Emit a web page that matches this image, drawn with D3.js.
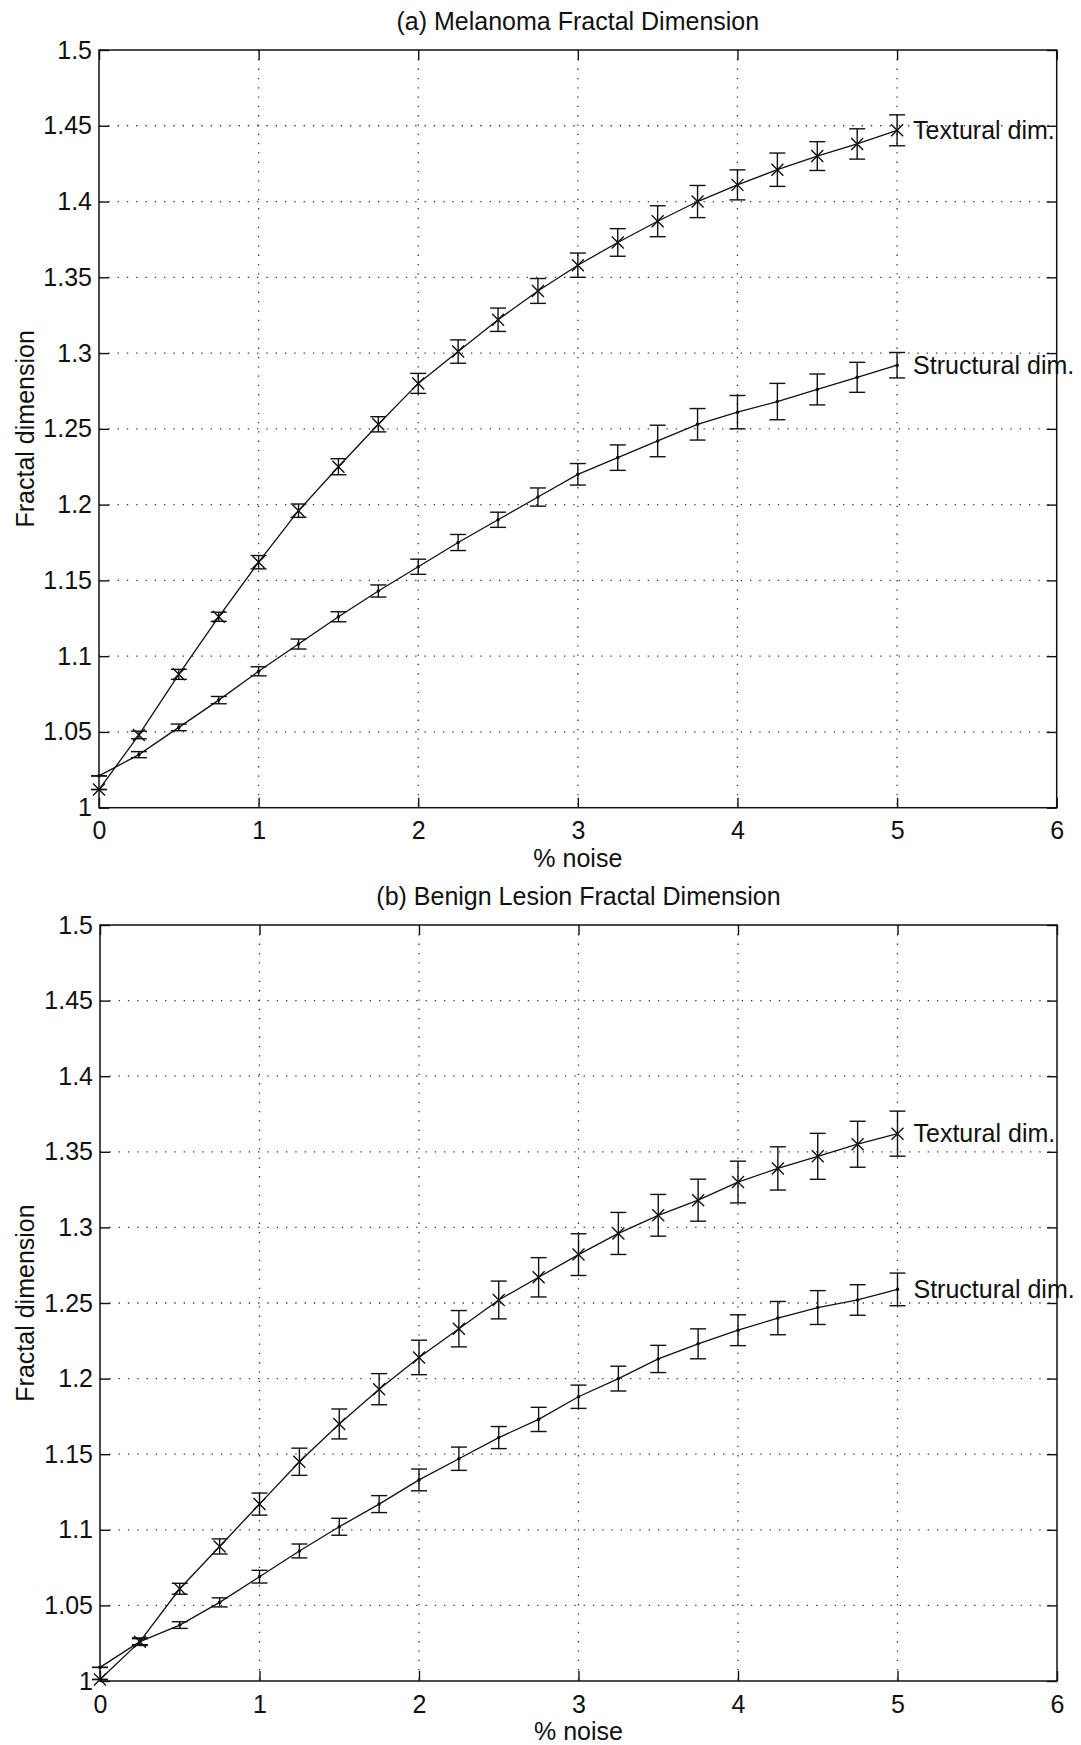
<!DOCTYPE html>
<html>
<head>
<meta charset="UTF-8">
<script src="https://cdnjs.cloudflare.com/ajax/libs/d3/7.8.5/d3.min.js"></script>
<style>
  body { margin: 0; background: #fff; }
  svg text { font-family: "Liberation Sans", Arial, sans-serif; fill: #111; }
</style>
</head>
<body>
<div id="chart"></div>
<script>
// % noise levels
var noise = [0, 0.25, 0.5, 0.75, 1, 1.25, 1.5, 1.75, 2, 2.25, 2.5, 2.75, 3, 3.25, 3.5, 3.75, 4, 4.25, 4.5, 4.75, 5];

// (a) melanoma
var melTextural    = [1.012, 1.048, 1.088, 1.126, 1.162, 1.196, 1.225, 1.253, 1.280, 1.301, 1.322, 1.341, 1.358, 1.373, 1.387, 1.400, 1.411, 1.421, 1.430, 1.438, 1.447];
var melTexturalErr = [0, 0.0025, 0.0033, 0.003, 0.0044, 0.0044, 0.0053, 0.005, 0.0066, 0.0077, 0.0077, 0.0082, 0.008, 0.0091, 0.0102, 0.0106, 0.0099, 0.011, 0.0095, 0.01, 0.0102];
var melStructural    = [1.021, 1.035, 1.053, 1.071, 1.090, 1.108, 1.126, 1.143, 1.159, 1.175, 1.190, 1.205, 1.220, 1.231, 1.242, 1.253, 1.261, 1.268, 1.276, 1.284, 1.292];
var melStructuralErr = [0, 0.002, 0.0022, 0.0024, 0.003, 0.0033, 0.0033, 0.004, 0.005, 0.0053, 0.005, 0.006, 0.0071, 0.0084, 0.0104, 0.0104, 0.011, 0.012, 0.0102, 0.0099, 0.0084];

// (b) benign lesion
var benTextural    = [1.001, 1.026, 1.061, 1.089, 1.117, 1.145, 1.170, 1.193, 1.214, 1.233, 1.252, 1.267, 1.282, 1.296, 1.308, 1.318, 1.330, 1.339, 1.347, 1.355, 1.362];
var benTexturalErr = [0, 0.0025, 0.0036, 0.005, 0.0073, 0.009, 0.0099, 0.0103, 0.0114, 0.012, 0.0125, 0.013, 0.0138, 0.0139, 0.0138, 0.0139, 0.0138, 0.0143, 0.0152, 0.0152, 0.0149];
var benStructural    = [1.009, 1.026, 1.037, 1.052, 1.069, 1.086, 1.102, 1.117, 1.133, 1.147, 1.161, 1.173, 1.188, 1.200, 1.213, 1.223, 1.232, 1.240, 1.247, 1.252, 1.259];
var benStructuralErr = [0, 0.002, 0.0022, 0.003, 0.0042, 0.0046, 0.0056, 0.0056, 0.0072, 0.0077, 0.0073, 0.008, 0.0077, 0.0082, 0.009, 0.0099, 0.0102, 0.011, 0.0112, 0.0101, 0.0108];

var xTicks = [0, 1, 2, 3, 4, 5, 6];
var yTicks = [1, 1.05, 1.1, 1.15, 1.2, 1.25, 1.3, 1.35, 1.4, 1.45, 1.5];
var titles = ["(a) Melanoma Fractal Dimension", "(b) Benign Lesion Fractal Dimension"];
var seriesNames = ["Textural dim.", "Structural dim."];
var xLabel = "% noise";
var yLabel = "Fractal dimension";

var W = 1081, H = 1745;
var fontSize = 25;

var svg = d3.select("#chart").append("svg")
  .attr("width", W)
  .attr("height", H);

svg.append("rect").attr("width", W).attr("height", H).attr("fill", "#fff");

function errSeries(g, x, y, vals, errs) {
  var pts = noise.map(function(n, i) { return {x: n, v: vals[i], e: errs[i]}; });
  var cap = 8;
  var eb = g.append("g").attr("stroke", "#111").attr("stroke-width", 1.4);
  pts.forEach(function(d) {
    var cx = x(d.x);
    eb.append("line").attr("x1", cx).attr("x2", cx).attr("y1", y(d.v - d.e)).attr("y2", y(d.v + d.e));
    eb.append("line").attr("x1", cx - cap).attr("x2", cx + cap).attr("y1", y(d.v - d.e)).attr("y2", y(d.v - d.e));
    eb.append("line").attr("x1", cx - cap).attr("x2", cx + cap).attr("y1", y(d.v + d.e)).attr("y2", y(d.v + d.e));
  });
  var line = d3.line().x(function(d) { return x(d.x); }).y(function(d) { return y(d.v); });
  g.append("path").datum(pts).attr("d", line)
    .attr("fill", "none").attr("stroke", "#111").attr("stroke-width", 1.3);
  return pts;
}

function panel(p, title, tex, texErr, str, strErr) {
  var x = d3.scaleLinear().domain([0, 6]).range([p.left, p.right]);
  var y = d3.scaleLinear().domain([1, 1.5]).range([p.bottom, p.top]);
  var g = svg.append("g");

  // dotted grid
  g.selectAll(".vg").data(xTicks.slice(1, -1)).enter().append("line")
    .attr("x1", function(d) { return x(d); }).attr("x2", function(d) { return x(d); })
    .attr("y1", p.top).attr("y2", p.bottom)
    .attr("stroke", "#333").attr("stroke-width", 1.3).attr("stroke-dasharray", "1.3,8");
  g.selectAll(".hg").data(yTicks.slice(1, -1)).enter().append("line")
    .attr("y1", function(d) { return y(d); }).attr("y2", function(d) { return y(d); })
    .attr("x1", p.left).attr("x2", p.right)
    .attr("stroke", "#333").attr("stroke-width", 1.3).attr("stroke-dasharray", "1.3,8");

  // axes, ticks inward
  var ax = g.append("g").attr("transform", "translate(0," + p.bottom + ")")
    .call(d3.axisBottom(x).tickValues(xTicks).tickSize(-10).tickSizeOuter(0).tickPadding(14).tickFormat(d3.format("d")));
  var ay = g.append("g").attr("transform", "translate(" + p.left + ",0)")
    .call(d3.axisLeft(y).tickValues(yTicks).tickSize(-10).tickSizeOuter(0).tickPadding(7).tickFormat(d3.format("~g")));
  var at = g.append("g").attr("transform", "translate(0," + p.top + ")")
    .call(d3.axisTop(x).tickValues(xTicks).tickSize(-10).tickSizeOuter(0).tickFormat(""));
  var ar = g.append("g").attr("transform", "translate(" + p.right + ",0)")
    .call(d3.axisRight(y).tickValues(yTicks).tickSize(-10).tickSizeOuter(0).tickFormat(""));
  [ax, ay, at, ar].forEach(function(a) {
    a.attr("font-size", fontSize).attr("font-family", null);
    a.select(".domain").remove();
    a.selectAll(".tick line").attr("stroke", "#111").attr("stroke-width", 1.4);
    a.selectAll(".tick text").attr("fill", "#111");
  });

  // series
  var tp = errSeries(g, x, y, tex, texErr);
  var sp = errSeries(g, x, y, str, strErr);

  var xs = 6;
  g.selectAll(".xm").data(tp).enter().append("path")
    .attr("d", function(d) {
      var cx = x(d.x), cy = y(d.v);
      return "M" + (cx - xs) + "," + (cy - xs) + "L" + (cx + xs) + "," + (cy + xs) +
             "M" + (cx - xs) + "," + (cy + xs) + "L" + (cx + xs) + "," + (cy - xs);
    })
    .attr("stroke", "#111").attr("stroke-width", 1.4).attr("fill", "none");
  g.selectAll(".dm").data(sp).enter().append("circle")
    .attr("cx", function(d) { return x(d.x); }).attr("cy", function(d) { return y(d.v); })
    .attr("r", 1.8).attr("fill", "#111");

  // series labels at the last point
  var lastT = tp[tp.length - 1], lastS = sp[sp.length - 1];
  g.append("text").attr("x", x(lastT.x) + 16).attr("y", y(lastT.v)).attr("dy", "0.35em")
    .attr("font-size", fontSize).text(seriesNames[0]);
  g.append("text").attr("x", x(lastS.x) + 16).attr("y", y(lastS.v)).attr("dy", "0.35em")
    .attr("font-size", fontSize).text(seriesNames[1]);

  // box
  g.append("rect").attr("x", p.left).attr("y", p.top)
    .attr("width", p.right - p.left).attr("height", p.bottom - p.top)
    .attr("fill", "none").attr("stroke", "#111").attr("stroke-width", 1.5);

  // titles
  var cx = (p.left + p.right) / 2;
  g.append("text").attr("x", cx).attr("y", p.top - 20).attr("text-anchor", "middle")
    .attr("font-size", fontSize).text(title);
  g.append("text").attr("x", cx).attr("y", p.bottom + 59).attr("text-anchor", "middle")
    .attr("font-size", fontSize).text(xLabel);
  g.append("text")
    .attr("transform", "translate(34," + ((p.top + p.bottom) / 2) + ") rotate(-90)")
    .attr("text-anchor", "middle").attr("font-size", fontSize).text(yLabel);
}

panel({top: 50, bottom: 807.7, left: 99, right: 1056.7}, titles[0],
  melTextural, melTexturalErr, melStructural, melStructuralErr);
panel({top: 925, bottom: 1681, left: 100, right: 1057}, titles[1],
  benTextural, benTexturalErr, benStructural, benStructuralErr);
</script>
</body>
</html>
